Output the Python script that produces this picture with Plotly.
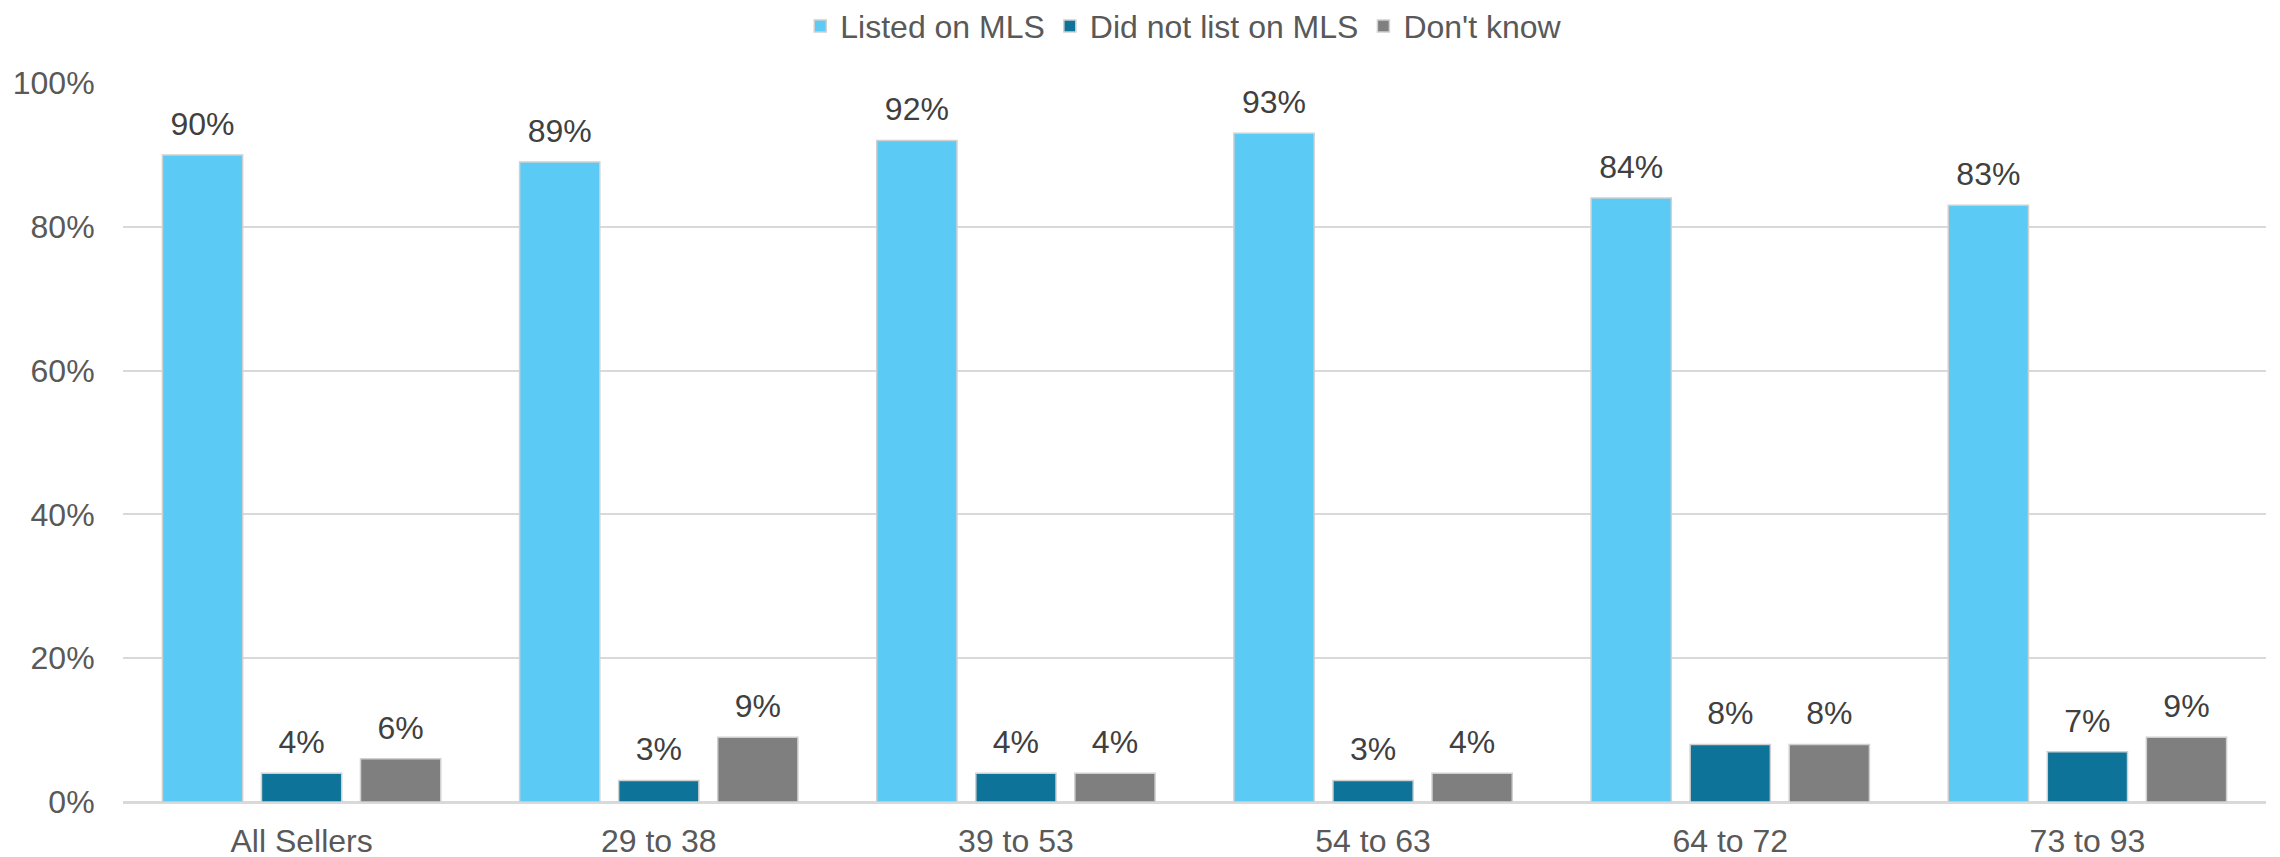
import plotly.graph_objects as go

categories = ["All Sellers", "29 to 38", "39 to 53", "54 to 63", "64 to 72", "73 to 93"]
listed = [90, 89, 92, 93, 84, 83]
not_listed = [4, 3, 4, 3, 8, 7]
dont_know = [6, 9, 4, 4, 8, 9]
series_names = ["Listed on MLS", "Did not list on MLS", "Don't know"]
colors = ["#5BCBF5", "#0E7399", "#7F7F7F"]

FONT = "Liberation Sans, Arial"
LABEL_LIFT = 1.4  # extra gap (axis units) between a bar top and its value label

fig = go.Figure()
for name, vals, col in zip(series_names, [listed, not_listed, dont_know], colors):
    fig.add_trace(go.Bar(
        x=categories, y=vals, name=name,
        marker=dict(color=col, line=dict(color="#D0D0D0", width=1.5)),
        xaxis="x", yaxis="y",
    ))
# transparent twin bars on an overlaid, slightly shifted axis carry the value labels
for name, vals in zip(series_names, [listed, not_listed, dont_know]):
    fig.add_trace(go.Bar(
        x=categories, y=vals, name=name, showlegend=False,
        marker=dict(color="rgba(0,0,0,0)", line=dict(width=0)),
        text=[f"{v}%" for v in vals], textposition="outside",
        textfont=dict(family=FONT, size=32, color="#404040"),
        cliponaxis=False, hoverinfo="skip",
        xaxis="x2", yaxis="y2",
    ))

# page body has an 8px margin; compensate so the plot area lands at
# x 123..2266, y 83..802 of the window
fig.update_layout(
    width=2280, height=857,
    margin=dict(l=115, r=22, t=75, b=63, autoexpand=False),
    paper_bgcolor="white", plot_bgcolor="white",
    barmode="group", bargap=0.168, bargroupgap=0.19,
    font=dict(family=FONT, size=32, color="#595959"),
    legend=dict(orientation="h", x=0.495, xanchor="center", y=1.079, yref="paper",
                yanchor="middle", font=dict(size=32, color="#595959"),
                itemwidth=30, traceorder="normal", bgcolor="rgba(0,0,0,0)"),
    xaxis=dict(showgrid=False, showline=False, ticks="outside", ticklen=11,
               tickcolor="rgba(0,0,0,0)", automargin=False,
               tickfont=dict(size=32, color="#595959")),
    xaxis2=dict(overlaying="x", matches="x", visible=False),
    yaxis=dict(range=[0, 100], tickvals=[0, 20, 40, 60, 80, 100],
               ticktext=["0%", "20%", "40%", "60%", "80%", "100%"],
               showgrid=True, gridcolor="#D9D9D9", gridwidth=2,
               zeroline=True, zerolinecolor="#D9D9D9", zerolinewidth=3,
               ticks="outside", ticklen=21, tickcolor="rgba(0,0,0,0)",
               automargin=False, tickfont=dict(size=32, color="#595959")),
    yaxis2=dict(overlaying="y", range=[-LABEL_LIFT, 100 - LABEL_LIFT],
                visible=False, showgrid=False, zeroline=False),
    uniformtext=dict(minsize=32, mode="show"),
)

fig.write_html("out.html")
